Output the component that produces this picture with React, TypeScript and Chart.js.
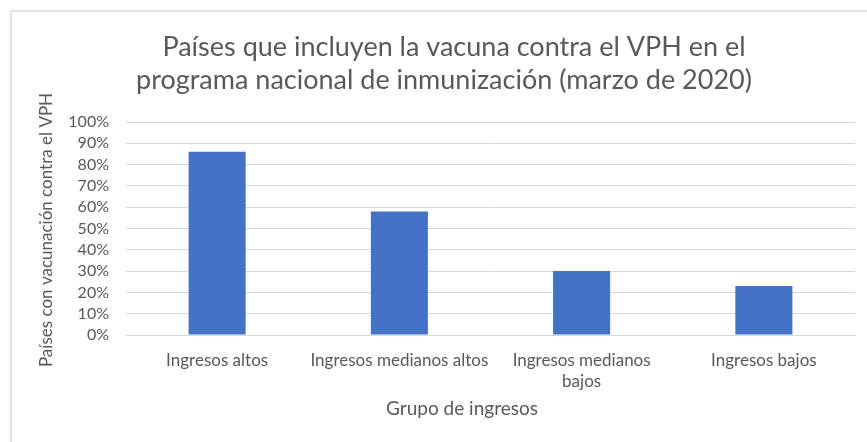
import React, { useEffect, useRef } from "react";
import { Chart, registerables } from "chart.js";

Chart.register(...registerables);

const categories: (string | string[])[] = [
  "Ingresos altos",
  "Ingresos medianos altos",
  ["Ingresos medianos", "bajos"],
  "Ingresos bajos",
];
const coverage = [0.86, 0.58, 0.3, 0.23];
const titleLines = [
  "Países que incluyen la vacuna contra el VPH en el",
  "programa nacional de inmunización (marzo de 2020)",
];
const yAxisTitle = "Países con vacunación contra el VPH";
const xAxisTitle = "Grupo de ingresos";

const FONT = "Lato, 'Open Sans', sans-serif";
const TEXT = "#595959";

const textPlugin = {
  id: "customText",
  afterDraw(chart: any) {
    const ctx = chart.ctx;
    ctx.save();
    ctx.fillStyle = TEXT;
    ctx.textAlign = "center";
    ctx.textBaseline = "alphabetic";
    ctx.font = `27px ${FONT}`;
    ctx.fillText(titleLines[0], 454, 56);
    ctx.fillText(titleLines[1], 444, 89);
    ctx.font = `19px ${FONT}`;
    ctx.fillText(xAxisTitle, 462, 415);
    ctx.translate(47, 230);
    ctx.rotate(-Math.PI / 2);
    ctx.textBaseline = "middle";
    ctx.font = `17px ${FONT}`;
    ctx.fillText(yAxisTitle, 0, 0);
    ctx.restore();
  },
};

export default function App() {
  const ref = useRef<HTMLCanvasElement>(null);
  useEffect(() => {
    if (!ref.current) return;
    const chart = new Chart(ref.current, {
      type: "bar",
      data: {
        labels: categories,
        datasets: [
          {
            data: coverage,
            backgroundColor: "#4472C4",
            borderWidth: 0,
            categoryPercentage: 0.313,
            barPercentage: 1,
          },
        ],
      },
      options: {
        responsive: false,
        animation: false,
        devicePixelRatio: 1,
        layout: { padding: { left: 10, right: 12, top: 122, bottom: 0 } },
        plugins: {
          legend: { display: false },
          tooltip: { enabled: false },
          title: { display: false },
        },
        scales: {
          x: {
            grid: { display: false, drawTicks: false },
            border: { display: true, color: "#d9d9d9" },
            ticks: {
              color: TEXT,
              font: { family: FONT, size: 17, lineHeight: 1.25 },
              padding: 15,
              maxRotation: 0,
              autoSkip: false,
            },
            afterFit: (s: any) => {
              s.height = 107;
            },
          },
          y: {
            min: 0,
            max: 1,
            grid: { color: "#d9d9d9", drawTicks: false },
            border: { display: false },
            ticks: {
              stepSize: 0.1,
              autoSkip: false,
              color: TEXT,
              font: { family: FONT, size: 16 },
              padding: 17,
              callback: (v: any) => `${Math.round(Number(v) * 100)}%`,
            },
            afterFit: (s: any) => {
              s.width = 116;
            },
          },
        },
      },
      plugins: [textPlugin],
    });
    return () => chart.destroy();
  }, []);
  return (
    <div style={{ position: "fixed", left: 0, top: 0, width: 867, height: 442, background: "#fff", overflow: "hidden" }}>
      <div
        style={{
          position: "absolute",
          left: 10,
          top: 10,
          width: 900,
          height: 500,
          borderLeft: "2px solid #e3e3e3",
          borderTop: "2px solid #e3e3e3",
        }}
      />
      <canvas ref={ref} width={867} height={442} style={{ position: "absolute", left: 0, top: 0 }} />
    </div>
  );
}
